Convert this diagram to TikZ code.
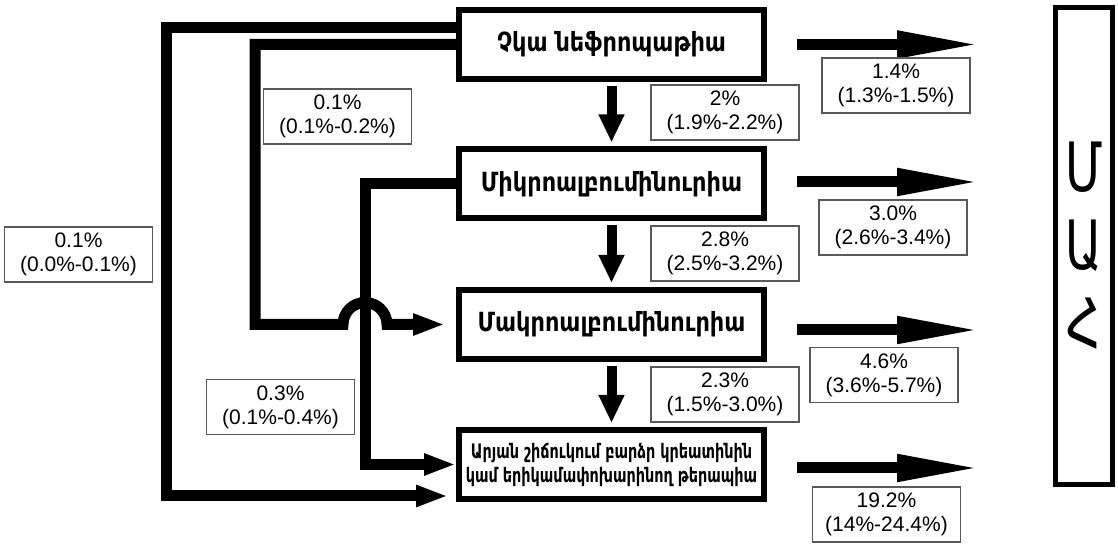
\documentclass[tikz,border=0pt]{standalone}
\usepackage{fontspec}
\setmainfont{Liberation Sans}
\newfontfamily\armfont[FakeStretch=0.85]{DejaVu Sans}
\newfontfamily\armnarrow[FakeStretch=0.72]{DejaVu Sans}
\newfontfamily\deathfont[FakeStretch=0.7]{DejaVu Sans}
\usetikzlibrary{arrows.meta}

\begin{document}
\begin{tikzpicture}[x=0.5pt, y=-0.5pt,
  stage/.style={rectangle,
      draw = black,
      line width = 3pt,
      fill = white,
      minimum width = 152.5pt,
      minimum height = 34.5pt,
      inner sep = 1pt,
      align = center,
      font = \armfont\bfseries\fontsize{13.2}{15}\selectfont},
  rate/.style={rectangle,
      draw = black!65,
      line width = 0.6pt,
      fill = white,
      minimum width = 74pt,
      minimum height = 27.5pt,
      inner sep = 1pt,
      align = center,
      font = \fontsize{10.5}{12}\selectfont},
  flow/.style={line width = 5.5pt, line join = miter,
      -{Triangle[length=16pt, width=10pt]}},
  bigarrow/.style={line width = 5.5pt,
      -{Triangle[length=42pt, width=12.5pt]}},
  downarrow/.style={line width = 5pt,
      -{Triangle[length=14pt, width=12pt]}}]

\useasboundingbox (0,0) rectangle (1118,544);

% stages
\node[stage] (none) at (611.5,44.5) {Չկա նեֆրոպաթիա};
\node[stage] (micro) at (611.5,184) {Միկրոալբումինուրիա};
\node[stage] (macro) at (611.5,324.5) {Մակրոալբումինուրիա};
\node[stage,
    font = \armnarrow\bfseries\fontsize{10}{12}\selectfont] (renal) at (611.5,464.5)
    {Արյան շիճուկում բարձր կրեատինին\\կամ երիկամափոխարինող թերապիա};

% death
\node[rectangle,
    draw = black,
    line width = 2.5pt,
    minimum width = 28.5pt,
    minimum height = 238.5pt,
    align = center,
    font = \deathfont\fontsize{34}{39}\selectfont] (death) at (1084,246)
    {Մ\\Ա\\Հ};

% lanes on the left
\coordinate (outer) at (166,0);
\coordinate (inner) at (255,0);
\coordinate (mid) at (365,0);

% down the stages
\draw[downarrow, shorten <=2pt, shorten >=2pt] (none.south) -- (micro.north);
\draw[downarrow, shorten <=2pt, shorten >=2pt] (micro.south) -- (macro.north);
\draw[downarrow, shorten <=2pt, shorten >=2pt] (macro.south) -- (renal.north);

% to death
\draw[bigarrow, shorten <=15pt, shorten >=36pt] (none.east) -- (none.east -| death.west);
\draw[bigarrow, shorten <=15pt, shorten >=36pt] ([yshift=1pt]micro.east) -- ([yshift=1pt]micro.east -| death.west);
\draw[bigarrow, shorten <=15pt, shorten >=36pt] ([yshift=-2.75pt]macro.east) -- ([yshift=-2.75pt]macro.east -| death.west);
\draw[bigarrow, shorten <=15pt, shorten >=36pt] ([yshift=-1.75pt]renal.east) -- ([yshift=-1.75pt]renal.east -| death.west);

% skipping stages
\draw[flow] ([yshift=8.5pt]none.west) -| ([yshift=-15.75pt]outer |- renal.west)
    -- ([shift={(-4pt,-15.75pt)}]renal.west);
\draw[flow] (micro.west) -| (mid |- renal.west) -- (renal.west);
\draw[flow] (none.west) -| (inner |- macro.west) -- ([xshift=-11pt]mid |- macro.west)
    arc (180:0:11pt) -- ([xshift=-5.5pt]macro.west);

% rates
\node[rate] (r01) at (725,112.5) {2\%\\(1.9\%-2.2\%)};
\node[rate] (r12) at (725,253.5) {2.8\%\\(2.5\%-3.2\%)};
\node[rate] (r23) at (725,394.5) {2.3\%\\(1.5\%-3.0\%)};
\node[rate] (r02) at (337.5,116.5) {0.1\%\\(0.1\%-0.2\%)};
\node[rate] (r03) at (78.5,254.5) {0.1\%\\(0.0\%-0.1\%)};
\node[rate] (r13) at (280.5,407) {0.3\%\\(0.1\%-0.4\%)};
\node[rate] (d0) at (896,85.5) {1.4\%\\(1.3\%-1.5\%)};
\node[rate] (d1) at (893,227.5) {3.0\%\\(2.6\%-3.4\%)};
\node[rate] (d2) at (884,375) {4.6\%\\(3.6\%-5.7\%)};
\node[rate] (d3) at (886.5,514.5) {19.2\%\\(14\%-24.4\%)};

\end{tikzpicture}
\end{document}
